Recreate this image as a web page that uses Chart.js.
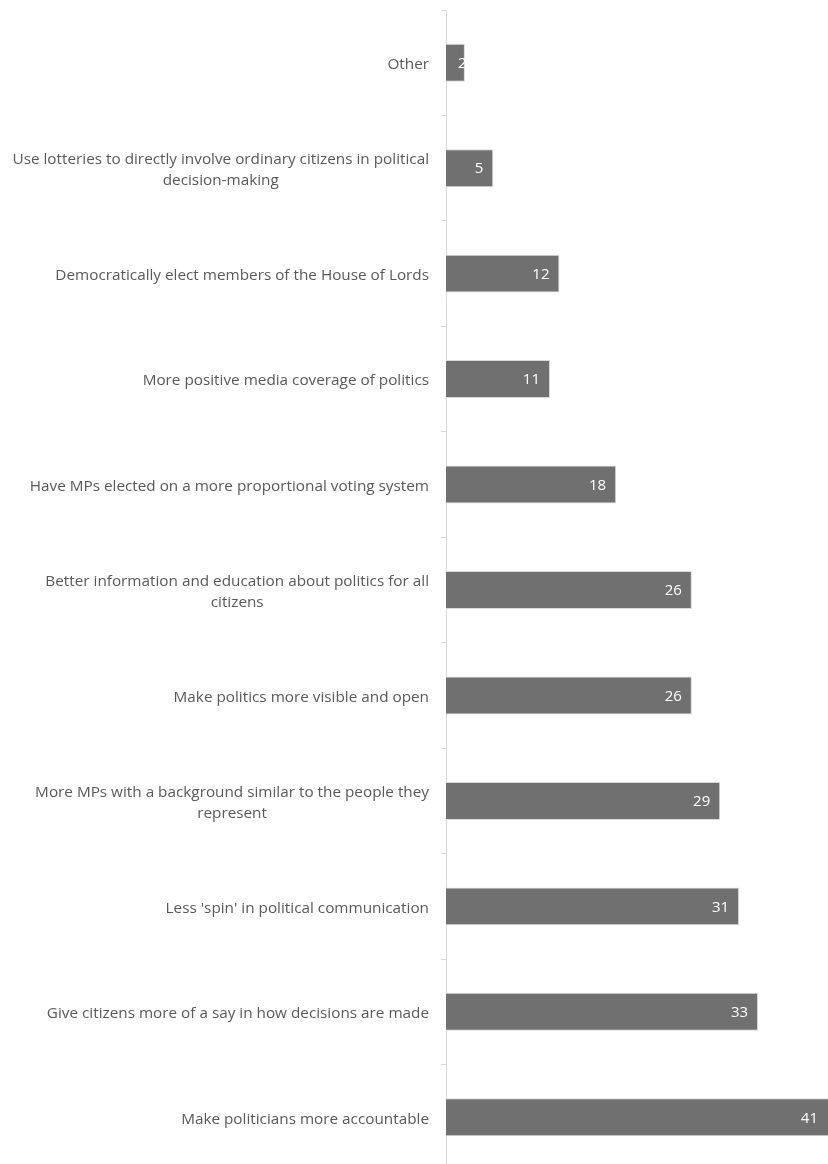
<!DOCTYPE html>
<html>
<head>
<meta charset="utf-8">
<script src="https://cdn.jsdelivr.net/npm/chart.js@4/dist/chart.umd.min.js"></script>
<style>
  html, body { margin: 0; padding: 0; background: #fff; overflow: hidden; }
  #wrap { width: 828px; height: 1170px; }
</style>
</head>
<body>
<div id="wrap"><canvas id="barChart"></canvas></div>
<script>
const categories = [
  ["Other"],
  ["Use lotteries to directly involve ordinary citizens in political", "decision-making"],
  ["Democratically elect members of the House of Lords"],
  ["More positive media coverage of politics"],
  ["Have MPs elected on a more proportional voting system"],
  ["Better information and education about politics for all", "citizens"],
  ["Make politics more visible and open"],
  ["More MPs with a background similar to the people they", "represent"],
  ["Less 'spin' in political communication"],
  ["Give citizens more of a say in how decisions are made"],
  ["Make politicians more accountable"]
];
const values = [2, 5, 12, 11, 18, 26, 26, 29, 31, 33, 41];
const axisMax = 40.4;

const textColor = "#595959";
const labelFont = "15.3px 'Open Sans'";

// category labels: right edge of the longest line sits near the axis, lines centred on each other
const catLabels = {
  id: "catLabels",
  afterDraw(chart) {
    const ctx = chart.ctx;
    const y = chart.scales.y;
    const right = chart.chartArea.left - 17;
    const lh = 21;
    ctx.save();
    ctx.font = labelFont;
    ctx.fillStyle = textColor;
    ctx.textAlign = "center";
    ctx.textBaseline = "middle";
    chart.data.labels.forEach((lines, i) => {
      const cy = y.getPixelForTick(i) + 2;
      const w = Math.max(...lines.map(l => ctx.measureText(l).width));
      const cx = right - w / 2;
      const y0 = cy - (lines.length - 1) * lh / 2;
      lines.forEach((l, k) => ctx.fillText(l, cx, y0 + k * lh));
    });
    ctx.restore();
  }
};

// white value labels inside the end of each bar
const valueLabels = {
  id: "valueLabels",
  afterDatasetsDraw(chart) {
    const ctx = chart.ctx;
    const area = chart.chartArea;
    const meta = chart.getDatasetMeta(0);
    ctx.save();
    ctx.font = "15px 'Open Sans'";
    ctx.fillStyle = "#ffffff";
    ctx.textAlign = "left";
    ctx.textBaseline = "middle";
    meta.data.forEach((bar, i) => {
      const txt = String(chart.data.datasets[0].data[i]);
      const w = ctx.measureText(txt).width;
      const end = Math.min(bar.x, area.right);
      const x = Math.max(end - 10 - w, area.left + 12);
      ctx.save();
      ctx.beginPath();
      ctx.rect(area.left, bar.y - bar.height / 2, end - area.left, bar.height);
      ctx.clip();
      ctx.fillText(txt, x, bar.y + 1);
      ctx.restore();
    });
    ctx.restore();
  }
};

chart = new Chart(document.getElementById("barChart"), {
  type: "bar",
  data: {
    labels: categories,
    datasets: [{
      data: values,
      backgroundColor: "#707070",
      borderColor: "#d9d9d9",
      borderWidth: 1,
      barPercentage: 0.36,
      categoryPercentage: 1
    }]
  },
  options: {
    indexAxis: "y",
    responsive: true,
    maintainAspectRatio: false,
    animation: false,
    layout: { padding: { top: 10, bottom: 0, left: 0, right: 0 } },
    plugins: { legend: { display: false }, tooltip: { enabled: false } },
    scales: {
      x: { display: false, min: 0, max: axisMax },
      y: {
        offset: true,
        border: { color: "#d9d9d9", width: 1 },
        grid: { drawOnChartArea: false, drawTicks: true, tickLength: 5, color: "#d9d9d9", offset: true },
        ticks: { display: false },
        afterFit(scale) { scale.width = 446; }
      }
    }
  },
  plugins: [catLabels, valueLabels]
});
</script>
</body>
</html>
